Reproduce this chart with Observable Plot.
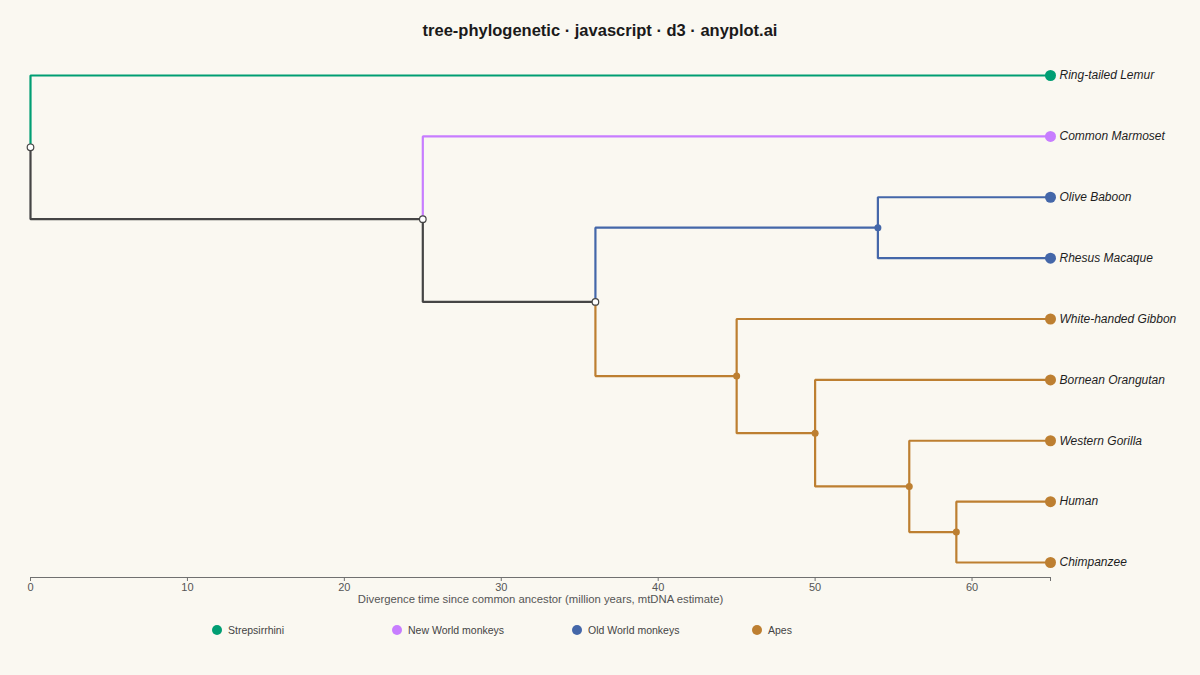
<!DOCTYPE html>
<html><head><meta charset="utf-8">
<script src="https://cdn.jsdelivr.net/npm/d3@7"></script>
<script src="https://cdn.jsdelivr.net/npm/@observablehq/plot@0.6"></script>
<style>
html,body{margin:0;padding:0;background:#FAF8F1;}
body{width:1200px;height:675px;overflow:hidden;position:relative;font-family:"Liberation Sans",Arial,Helvetica,sans-serif;}
#title{height:60px;line-height:61px;text-align:center;font-weight:bold;font-size:16.5px;color:#1a1a1a;}
#chart svg{display:block;}
#chart svg g[aria-label="x-axis label"] text{font-size:11.3px;}
#legend{position:absolute;top:620px;left:0;height:20px;width:1200px;}
.item{position:absolute;top:0;height:20px;line-height:20px;font-size:10.5px;color:#444;white-space:nowrap;}
.item span.dot{position:absolute;left:-5px;top:5px;width:10px;height:10px;border-radius:50%;}
.item span.lab{position:absolute;left:11px;top:0;}
</style>
</head><body>
<div id="title">tree-phylogenetic · javascript · d3 · anyplot.ai</div>
<div id="chart"></div>
<div id="legend"></div>
<script>
// ---- data (depth-first order, top to bottom) ----
const nodeNames = ["Root","Ring-tailed Lemur","Anthropoidea","Common Marmoset","Catarrhini","Cercopithecidae","Olive Baboon","Rhesus Macaque",
  "Hominoidea","White-handed Gibbon","Hominidae","Bornean Orangutan","Homininae","Western Gorilla","Hominini","Human","Chimpanzee"];
const nodeParents = [null,"Root","Root","Anthropoidea","Anthropoidea","Catarrhini","Cercopithecidae","Cercopithecidae",
  "Catarrhini","Hominoidea","Hominoidea","Hominidae","Hominidae","Homininae","Homininae","Hominini","Hominini"];
const nodeTimes = [0,65,25,65,36,54,65,65, 45,65,50,65,56,65,59,65,65];
const nodeClades = ["Shared","Strepsirrhini","Shared","New World monkeys","Shared","Old World monkeys","Old World monkeys","Old World monkeys",
  "Apes","Apes","Apes","Apes","Apes","Apes","Apes","Apes","Apes"];
const cladeNames = ["Strepsirrhini","New World monkeys","Old World monkeys","Apes"];
const cladeColors = ["#009E73","#C77DFF","#4467A9","#BD7F31"];
const xTicks = [0,10,20,30,40,50,60];
const axisEnd = 65;
const xLabel = "Divergence time since common ancestor (million years, mtDNA estimate)";

// ---- hierarchy ----
const table = nodeNames.map((name,i)=>({name, parent:nodeParents[i], time:nodeTimes[i], clade:nodeClades[i]}));
const root = d3.stratify().id(d=>d.name).parentId(d=>d.parent)(table);
root.leaves().forEach((l,i)=>{ l.row = i; });
root.eachAfter(n=>{ if(n.children){ n.row = (n.children[0].row + n.children[n.children.length-1].row)/2; } });
const nodes = root.descendants();
const leaves = nodes.filter(n=>!n.children);
const internalShared = nodes.filter(n=>n.children && n.data.clade==="Shared");
const internalClade = nodes.filter(n=>n.children && n.data.clade!=="Shared");
const links = root.links();

const font = '"Liberation Sans",Arial,Helvetica,sans-serif';
const plot = Plot.plot({
  width:1200, height:555,
  marginLeft:30, marginRight:150, marginTop:15, marginBottom:38,
  style:{background:"transparent", fontFamily:font, fontSize:"11px", color:"#555"},
  x:{domain:[0,axisEnd]},
  y:{domain:[0,leaves.length-1], reverse:true, insetBottom:15, axis:null},
  color:{domain:[...cladeNames,"Shared"], range:[...cladeColors,"#454545"]},
  marks:[
    Plot.frame({anchor:"bottom", stroke:"#707070", strokeWidth:1}),
    Plot.axisX({ticks:[...xTicks,axisEnd], tickFormat:d=> d===axisEnd ? "" : String(d), tickSize:4, tickPadding:2,
      stroke:"#707070", fill:"#555", fontSize:11, label:xLabel, labelAnchor:"center", labelArrow:"none", labelOffset:25}),
    Plot.link(links, {x1:d=>d.source.data.time, y1:d=>d.source.row, x2:d=>d.target.data.time, y2:d=>d.target.row,
      curve:"step-before", stroke:d=>d.target.data.clade, strokeWidth:2.2}),
    Plot.dot(internalShared, {x:d=>d.data.time, y:d=>d.row, r:3.3, fill:"#FFFFFF", stroke:"#454545", strokeWidth:1.2}),
    Plot.dot(internalClade, {x:d=>d.data.time, y:d=>d.row, r:3.5, fill:d=>d.data.clade}),
    Plot.dot(leaves, {x:d=>d.data.time, y:d=>d.row, r:5.5, fill:d=>d.data.clade}),
    Plot.text(leaves, {x:d=>d.data.time, y:d=>d.row, text:d=>d.data.name, dx:9, textAnchor:"start",
      fontStyle:"italic", fontSize:12, fill:"#1e1e1e"})
  ]
});
document.getElementById("chart").appendChild(plot);

// ---- legend ----
const legend = document.getElementById("legend");
cladeNames.forEach((c,i)=>{
  const it = document.createElement("div");
  it.className = "item";
  it.style.left = (217 + i*180) + "px";
  it.innerHTML = `<span class="dot" style="background:${cladeColors[i]}"></span><span class="lab">${c}</span>`;
  legend.appendChild(it);
});
</script>
</body></html>
